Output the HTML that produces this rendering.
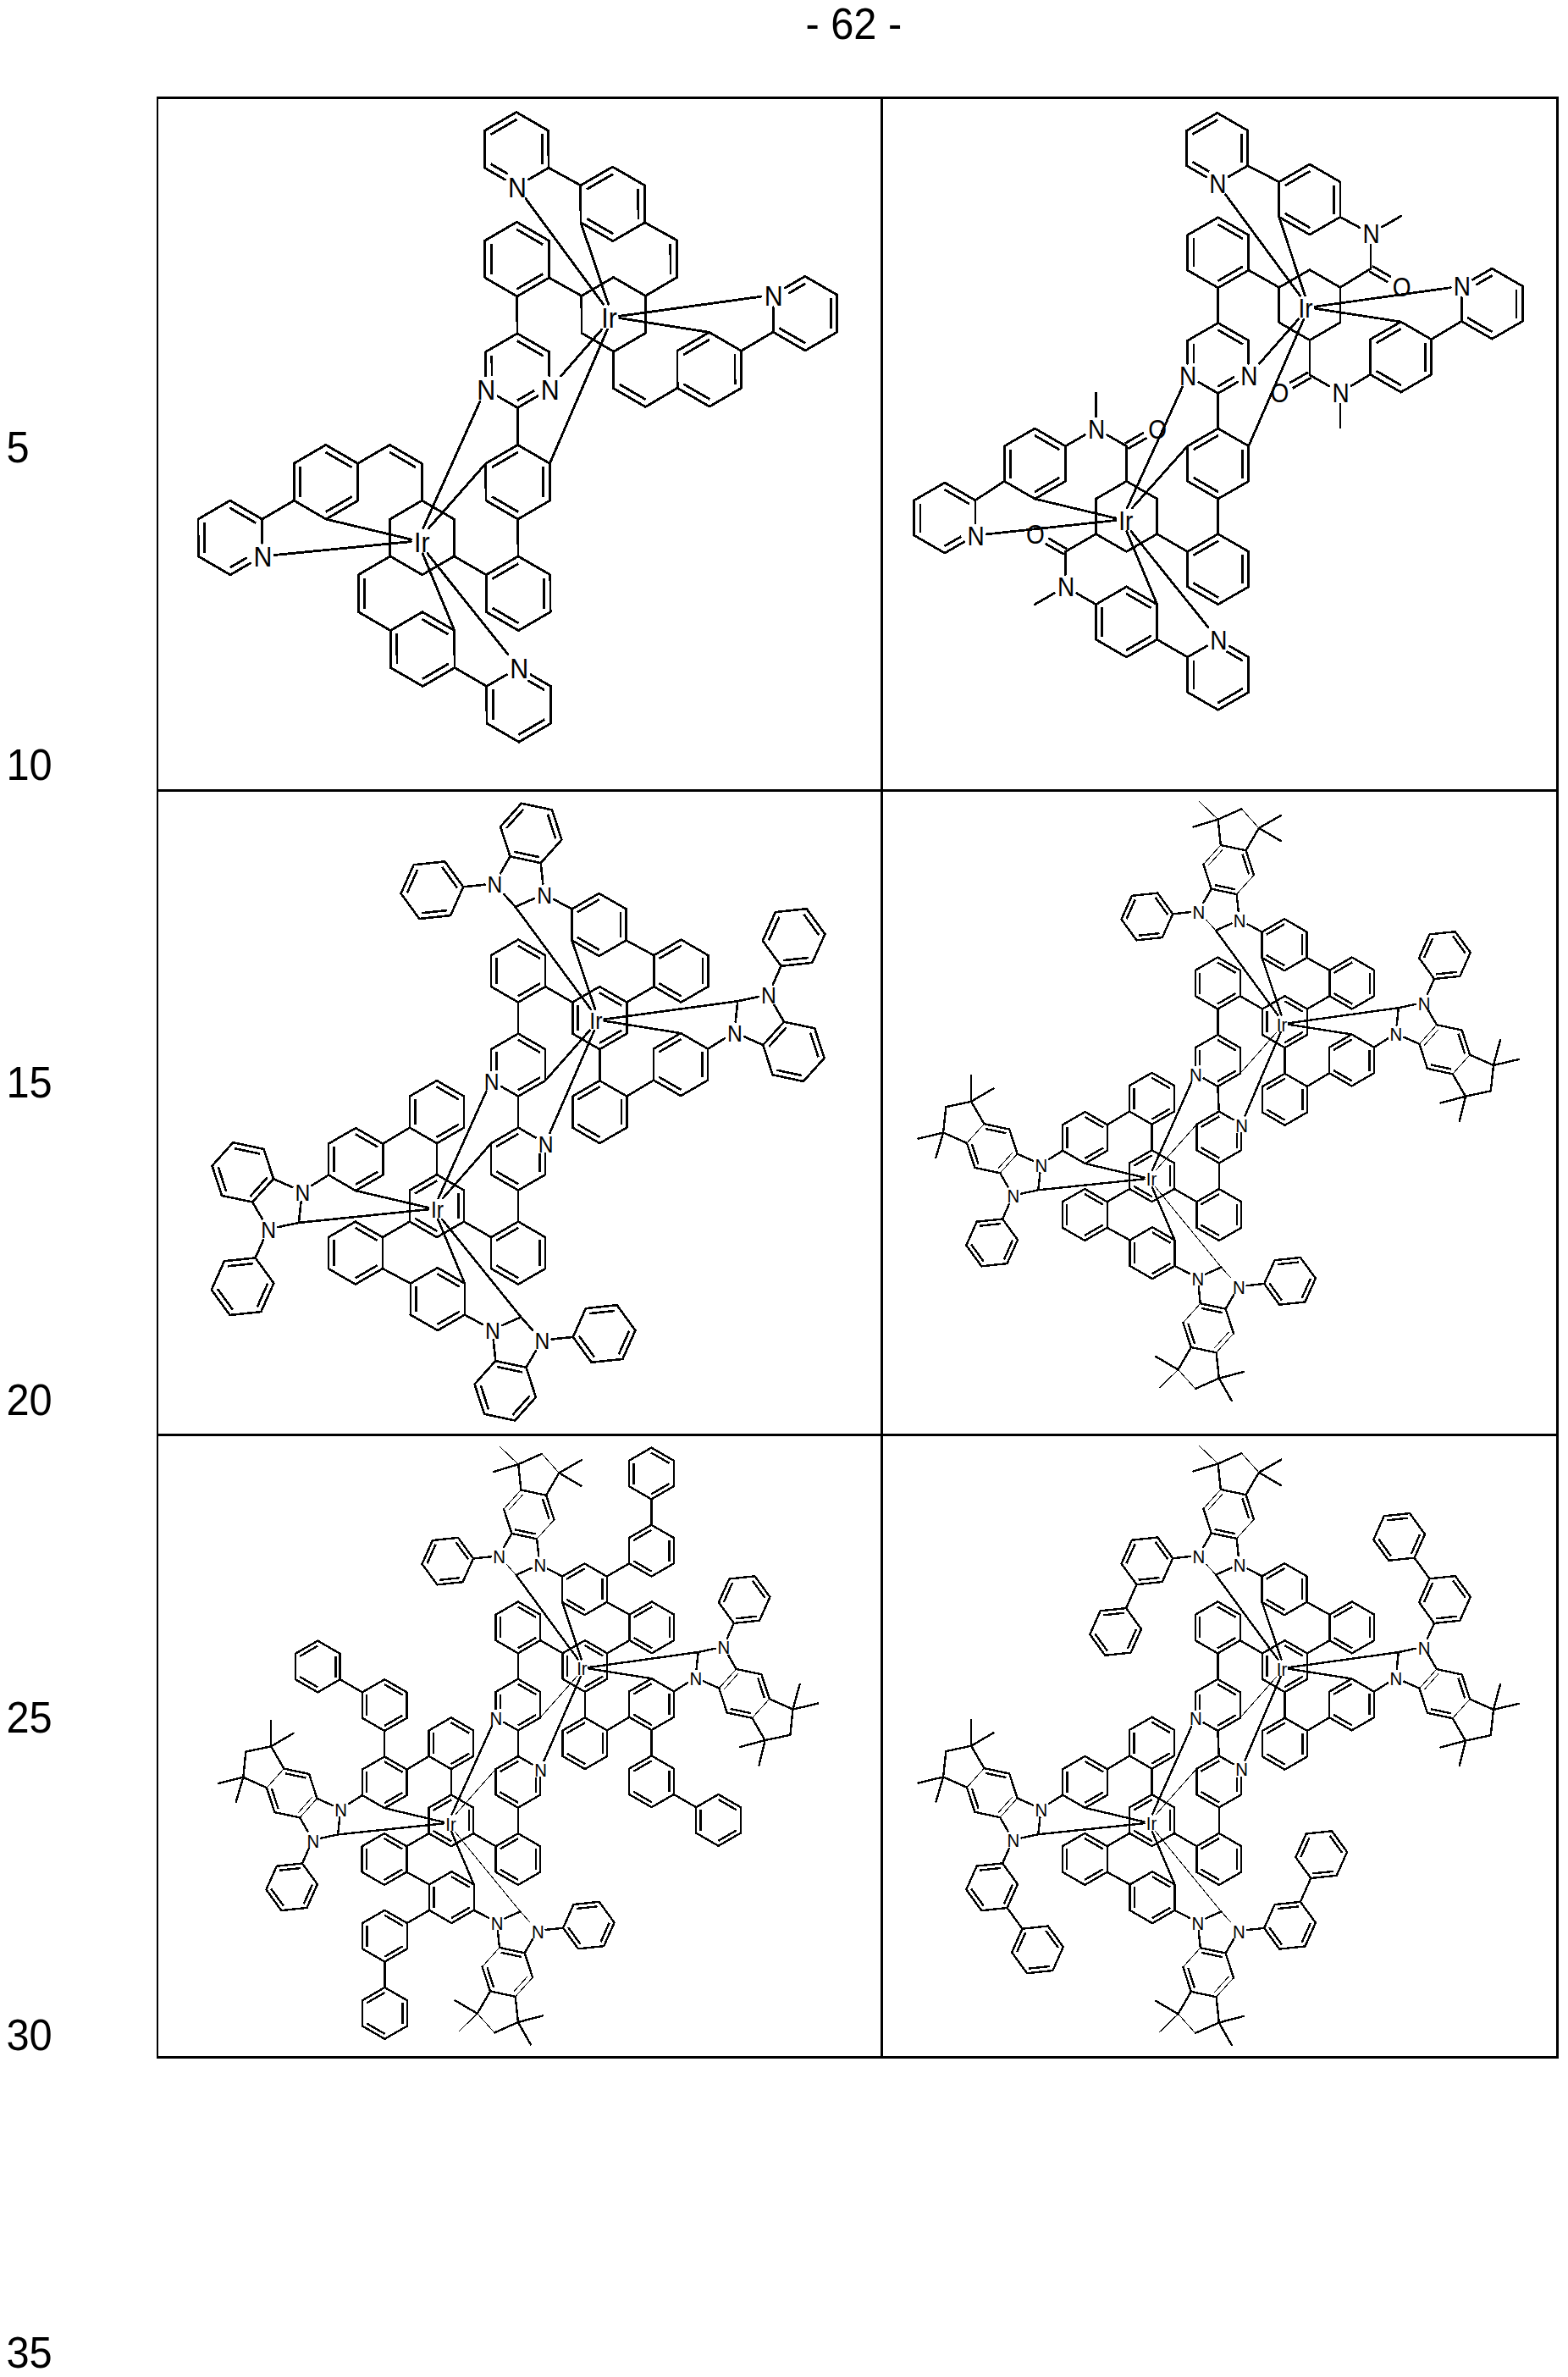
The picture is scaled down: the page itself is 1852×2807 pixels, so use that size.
<!DOCTYPE html>
<html><head><meta charset="utf-8"><title>62</title>
<style>
html,body{margin:0;padding:0;background:#fff}
body{width:1852px;height:2807px;overflow:hidden}
svg{display:block}
text{font-family:"Liberation Sans",sans-serif;fill:#000}
</style></head><body>
<svg width="1852" height="2807" viewBox="0 0 1852 2807" fill="none" stroke="#000" text-anchor="middle" shape-rendering="crispEdges">
<g font-size="50" text-anchor="start">
<text stroke="none" transform="translate(951.5 45.8) scale(0.975 1.03)">- 62 -</text>
<text stroke="none" transform="translate(7.5 545.8) scale(0.975 1.03)">5</text>
<text stroke="none" transform="translate(7.5 920.8) scale(0.975 1.03)">10</text>
<text stroke="none" transform="translate(7.5 1295.8) scale(0.975 1.03)">15</text>
<text stroke="none" transform="translate(7.5 1670.8) scale(0.975 1.03)">20</text>
<text stroke="none" transform="translate(7.5 2045.8) scale(0.975 1.03)">25</text>
<text stroke="none" transform="translate(7.5 2420.8) scale(0.975 1.03)">30</text>
<text stroke="none" transform="translate(7.5 2795.8) scale(0.975 1.03)">35</text>
</g>
<path d="M186.1 115.6H1839.5V2429.4H186.1ZM1041.4 115.6V2429.4M186.1 933.5H1839.5M186.1 1694.5H1839.5" stroke-width="2.7" stroke-linejoin="miter" stroke-linecap="butt"/>
<path d="M609.9 132.5L647.8 154.4M647.8 154.4L648.0 198.2M648.0 198.2L624.7 211.8M596.2 212.0L572.4 198.2M572.4 198.2L572.2 154.4M572.2 154.4L609.9 132.5M610.4 262.2L648.3 284.2M648.3 284.2L648.5 328.0M648.5 328.0L610.8 350.0M610.8 350.0L572.9 328.0M572.9 328.0L572.7 284.2M572.7 284.2L610.4 262.2M723.5 197.0L761.4 218.9M761.4 218.9L761.6 262.8M761.6 262.8L723.9 284.7M723.9 284.7L686.0 262.8M686.0 262.8L685.8 218.9M685.8 218.9L723.5 197.0M724.6 327.5L762.4 349.4M762.4 349.4L762.6 393.3M762.6 393.3L724.9 415.2M724.9 415.2L687.0 393.3M687.0 393.3L686.9 349.4M686.9 349.4L724.6 327.5M837.7 392.4L875.5 414.3M875.5 414.3L875.7 458.2M875.7 458.2L838.0 480.1M838.0 480.1L800.1 458.2M800.1 458.2L800.0 414.3M800.0 414.3L837.7 392.4M950.8 326.3L988.6 348.2M988.6 348.2L988.8 392.1M988.8 392.1L951.1 414.0M951.1 414.0L913.2 392.1M913.2 392.1L913.1 362.8M927.5 339.9L950.8 326.3M648.0 198.2L685.8 218.9M648.5 328.0L686.9 349.4M875.5 414.3L913.2 392.1M761.6 262.8L799.4 283.7M799.4 283.7L799.6 327.5M799.6 327.5L762.4 349.4M724.9 415.2L724.6 458.6M724.6 458.6L762.4 480.5M762.4 480.5L800.1 458.2M621.0 234.7L712.6 359.2M686.0 262.8L718.6 359.2M899.0 350.2L731.7 373.3M837.7 392.4L731.7 375.6M612.9 876.2L575.0 854.2M575.0 854.2L574.8 810.4M574.8 810.4L598.4 796.7M627.0 796.8L650.4 810.4M650.4 810.4L650.6 854.2M650.6 854.2L612.9 876.2M612.4 744.6L574.5 722.7M574.5 722.7L574.3 678.8M574.3 678.8L612.0 656.9M612.0 656.9L649.9 678.8M649.9 678.8L650.1 722.7M650.1 722.7L612.4 744.6M499.3 810.4L461.4 788.5M461.4 788.5L461.2 744.6M461.2 744.6L498.9 722.7M498.9 722.7L536.8 744.6M536.8 744.6L537.0 788.5M537.0 788.5L499.3 810.4M498.7 678.8L460.9 656.9M460.9 656.9L460.7 613.1M460.7 613.1L498.4 591.1M498.4 591.1L536.3 613.1M536.3 613.1L536.4 656.9M536.4 656.9L498.7 678.8M385.1 613.1L347.3 591.1M347.3 591.1L347.1 547.3M347.1 547.3L384.8 525.4M384.8 525.4L422.6 547.3M422.6 547.3L422.8 591.1M422.8 591.1L385.1 613.1M272.0 678.8L234.2 656.9M234.2 656.9L234.0 613.1M234.0 613.1L271.7 591.1M271.7 591.1L309.6 613.1M309.6 613.1L309.7 641.3M295.6 665.1L272.0 678.8M574.8 810.4L537.0 788.5M574.3 678.8L536.4 656.9M347.3 591.1L309.6 613.1M461.2 744.6L423.4 722.7M423.4 722.7L423.2 678.8M423.2 678.8L460.9 656.9M498.4 591.1L498.2 547.3M498.2 547.3L460.3 525.4M460.3 525.4L422.6 547.3M600.0 772.8L505.0 653.8M536.8 744.6L499.2 653.8M324.2 655.5L485.3 639.6M385.1 613.1L485.3 637.0M611.0 393.8L648.8 415.7M648.8 415.7L648.9 443.9M634.9 467.8L611.3 481.5M611.3 481.5L587.9 467.9M573.4 443.9L573.3 415.7M573.3 415.7L611.0 393.8M611.5 525.4L649.4 547.3M649.4 547.3L649.5 591.1M649.5 591.1L611.8 613.1M611.8 613.1L574.0 591.1M574.0 591.1L573.8 547.3M573.8 547.3L611.5 525.4M610.8 350.0L611.0 393.8M611.3 481.5L611.5 525.4M611.8 613.1L612.0 656.9M662.7 443.9L710.6 389.3M649.4 547.3L717.3 389.3M566.9 474.1L499.8 623.7M573.8 547.3L506.4 623.7" stroke-width="2.85" stroke-linecap="round"/>
<path d="M579.4 159.0L610.3 141.0M640.2 158.3L640.4 194.3M599.9 205.4L579.6 193.6M610.1 270.8L641.1 288.8M641.3 323.4L610.4 341.4M580.5 324.1L580.3 288.1M693.0 223.5L724.0 205.6M753.8 222.8L754.0 258.8M724.2 276.1L693.2 258.1M807.2 419.0L838.1 401.0M868.0 418.3L868.1 454.2M838.4 471.5L807.3 453.5M931.3 346.5L951.2 334.9M981.1 352.2L981.2 388.2M951.5 405.4L920.4 387.5M791.9 287.6L792.0 323.6M731.8 453.9L762.8 471.9M643.4 849.6L612.5 867.6M582.6 850.3L582.5 814.3M623.2 803.4L643.2 815.0M612.7 736.0L581.7 718.0M581.5 683.5L612.4 665.5M642.3 682.8L642.5 718.7M529.8 783.8L498.8 801.8M469.0 784.5L468.8 748.5M498.6 731.3L529.6 749.2M415.6 586.5L384.7 604.5M354.8 587.2L354.7 551.2M384.4 533.9L415.5 551.9M291.8 658.5L271.6 670.2M241.7 653.0L241.6 617.0M271.3 599.7L302.4 617.7M430.9 718.7L430.8 682.8M491.0 551.9L460.0 533.9M610.6 402.4L641.7 420.4M631.1 461.2L610.9 472.9M581.0 443.9L580.9 419.7M581.0 551.9L611.9 533.9M641.8 551.2L641.9 587.2M612.2 604.5L581.1 586.5" stroke-width="2.85" stroke-linecap="butt"/>
<text stroke="none" transform="translate(610.9 232.6) scale(0.95 1.04)" font-size="32.0">N</text>
<text stroke="none" transform="translate(913.7 360.7) scale(0.95 1.04)" font-size="32.0">N</text>
<text stroke="none" transform="translate(719.6 387.2) scale(0.95 1.04)" font-size="32.0">Ir</text>
<text stroke="none" transform="translate(613.2 800.9) scale(0.95 1.04)" font-size="32.0">N</text>
<text stroke="none" transform="translate(310.4 669.3) scale(0.95 1.04)" font-size="32.0">N</text>
<text stroke="none" transform="translate(498.3 651.7) scale(0.95 1.04)" font-size="32.0">Ir</text>
<text stroke="none" transform="translate(649.7 472.0) scale(0.95 1.04)" font-size="32.0">N</text>
<text stroke="none" transform="translate(574.1 472.0) scale(0.95 1.04)" font-size="32.0">N</text>
<path d="M1437.7 133.4L1473.8 154.2M1473.8 154.2L1473.8 195.7M1473.8 195.7L1451.0 208.8M1424.7 209.0L1401.6 195.7M1401.6 195.7L1401.6 154.2M1401.6 154.2L1437.7 133.4M1438.7 256.8L1474.8 277.6M1474.8 277.6L1474.8 319.1M1474.8 319.1L1438.7 339.9M1438.7 339.9L1402.6 319.1M1402.6 319.1L1402.6 277.6M1402.6 277.6L1438.7 256.8M1546.9 194.0L1582.9 214.8M1582.9 214.8L1582.9 256.3M1582.9 256.3L1546.9 277.1M1546.9 277.1L1510.8 256.3M1510.8 256.3L1510.8 214.8M1510.8 214.8L1546.9 194.0M1546.9 318.6L1582.9 339.4M1582.9 339.4L1582.9 380.9M1582.9 380.9L1546.9 401.7M1546.9 401.7L1510.8 380.9M1510.8 380.9L1510.8 339.4M1510.8 339.4L1546.9 318.6M1654.6 380.0L1690.6 400.8M1690.6 400.8L1690.6 442.3M1690.6 442.3L1654.6 463.1M1654.6 463.1L1618.5 442.3M1618.5 442.3L1618.5 400.8M1618.5 400.8L1654.6 380.0M1762.2 317.1L1798.3 337.9M1798.3 337.9L1798.3 379.4M1798.3 379.4L1762.2 400.2M1762.2 400.2L1726.2 379.4M1726.2 379.4L1726.2 351.3M1739.5 330.2L1762.2 317.1M1473.8 195.7L1510.8 214.8M1474.8 319.1L1510.8 339.4M1690.6 400.8L1726.2 379.4M1582.9 256.3L1606.0 268.8M1619.0 289.2L1619.0 317.3M1619.0 317.3L1582.9 339.4M1632.3 268.1L1655.1 255.0M1546.9 401.7L1546.9 442.7M1546.9 442.7L1569.9 456.0M1596.2 455.6L1618.5 442.3M1582.9 476.9L1582.9 505.0M1447.6 229.9L1535.5 349.1M1510.8 256.3L1541.3 349.1M1713.2 339.7L1553.2 362.1M1654.6 380.0L1553.2 364.3M1438.7 838.3L1402.6 817.5M1402.6 817.5L1402.6 776.0M1402.6 776.0L1425.7 762.7M1452.0 762.9L1474.8 776.0M1474.8 776.0L1474.8 817.5M1474.8 817.5L1438.7 838.3M1438.7 713.7L1402.6 692.9M1402.6 692.9L1402.6 651.4M1402.6 651.4L1438.7 630.6M1438.7 630.6L1474.8 651.4M1474.8 651.4L1474.8 692.9M1474.8 692.9L1438.7 713.7M1330.5 776.0L1294.5 755.2M1294.5 755.2L1294.5 713.7M1294.5 713.7L1330.5 692.9M1330.5 692.9L1366.6 713.7M1366.6 713.7L1366.6 755.2M1366.6 755.2L1330.5 776.0M1330.5 651.4L1294.5 630.6M1294.5 630.6L1294.5 589.1M1294.5 589.1L1330.5 568.3M1330.5 568.3L1366.6 589.1M1366.6 589.1L1366.6 630.6M1366.6 630.6L1330.5 651.4M1222.3 589.1L1186.3 568.3M1186.3 568.3L1186.3 526.8M1186.3 526.8L1222.3 506.0M1222.3 506.0L1258.4 526.8M1258.4 526.8L1258.4 568.3M1258.4 568.3L1222.3 589.1M1115.9 653.1L1079.8 632.3M1079.8 632.3L1079.8 590.8M1079.8 590.8L1115.9 570.0M1115.9 570.0L1151.9 590.8M1151.9 590.8L1151.9 617.9M1138.9 639.8L1115.9 653.1M1402.6 776.0L1366.6 755.2M1402.6 651.4L1366.6 630.6M1186.3 568.3L1151.9 590.8M1294.5 713.7L1271.7 700.6M1258.4 678.5L1258.4 651.4M1258.4 651.4L1294.5 630.6M1245.4 700.4L1222.3 713.7M1330.5 568.3L1330.5 526.8M1330.5 526.8L1307.8 513.7M1281.5 513.5L1258.4 526.8M1294.5 491.6L1294.5 464.5M1427.1 740.8L1336.0 627.5M1366.6 713.7L1330.7 627.5M1165.2 630.9L1317.9 614.5M1222.3 589.1L1317.9 612.0M1438.7 381.4L1474.8 402.2M1474.8 402.2L1474.8 429.3M1461.7 451.2L1438.7 464.5M1438.7 464.5L1415.9 451.4M1402.6 429.3L1402.6 402.2M1402.6 402.2L1438.7 381.4M1438.7 506.0L1474.8 526.8M1474.8 526.8L1474.8 568.3M1474.8 568.3L1438.7 589.1M1438.7 589.1L1402.6 568.3M1402.6 568.3L1402.6 526.8M1402.6 526.8L1438.7 506.0M1438.7 339.9L1438.7 381.4M1438.7 464.5L1438.7 506.0M1438.7 589.1L1438.7 630.6M1487.5 429.3L1533.7 376.9M1474.8 526.8L1539.9 376.9M1396.5 457.1L1331.3 599.7M1402.6 526.8L1337.5 599.7" stroke-width="2.75" stroke-linecap="round"/>
<path d="M1408.5 158.6L1438.1 141.5M1466.5 157.9L1466.5 192.0M1428.3 202.7L1408.5 191.3M1438.3 264.9L1467.9 282.0M1467.9 314.7L1438.3 331.8M1409.9 315.4L1409.9 281.3M1517.7 219.2L1547.3 202.1M1575.7 218.5L1575.7 252.6M1547.3 269.0L1517.7 251.9M1625.4 405.2L1654.9 388.2M1683.4 404.5L1683.4 438.6M1654.9 455.0L1625.4 437.9M1743.1 336.5L1762.6 325.3M1791.0 341.6L1791.0 375.7M1762.6 392.1L1733.0 375.0M1617.2 320.5L1639.4 333.3M1620.8 314.2L1643.0 327.0M1545.1 439.6L1523.1 452.2M1548.7 445.9L1526.8 458.5M1467.9 813.1L1438.3 830.2M1409.9 813.8L1409.9 779.7M1448.4 769.1L1467.9 780.4M1439.1 705.6L1409.5 688.5M1409.5 655.8L1439.1 638.7M1467.5 655.1L1467.5 689.2M1359.7 750.8L1330.1 767.9M1301.7 751.5L1301.7 717.4M1330.1 701.0L1359.7 718.1M1251.5 563.9L1222.0 581.0M1193.5 564.6L1193.5 530.5M1222.0 514.1L1251.5 531.2M1135.3 633.5L1115.5 644.9M1087.1 628.6L1087.1 594.5M1115.5 578.1L1145.1 595.2M1260.2 648.3L1238.3 635.6M1256.6 654.5L1234.7 641.9M1332.3 529.9L1354.6 517.1M1328.7 523.7L1350.9 510.9M1438.3 389.5L1467.9 406.6M1458.1 444.9L1438.3 456.4M1409.9 429.3L1409.9 405.9M1409.5 531.2L1439.1 514.1M1467.5 530.5L1467.5 564.6M1439.1 581.0L1409.5 563.9" stroke-width="2.75" stroke-linecap="butt"/>
<text stroke="none" transform="translate(1438.3 227.9) scale(0.95 1.04)" font-size="29.5">N</text>
<text stroke="none" transform="translate(1726.8 349.3) scale(0.95 1.04)" font-size="29.5">N</text>
<text stroke="none" transform="translate(1619.6 287.2) scale(0.95 1.04)" font-size="29.5">N</text>
<text stroke="none" transform="translate(1655.6 349.5) scale(0.95 1.04)" font-size="29.5">O</text>
<text stroke="none" transform="translate(1583.5 474.9) scale(0.95 1.04)" font-size="29.5">N</text>
<text stroke="none" transform="translate(1511.4 474.9) scale(0.95 1.04)" font-size="29.5">O</text>
<text stroke="none" transform="translate(1542.1 375.0) scale(0.95 1.04)" font-size="29.5">Ir</text>
<text stroke="none" transform="translate(1439.3 766.7) scale(0.95 1.04)" font-size="29.5">N</text>
<text stroke="none" transform="translate(1152.5 643.8) scale(0.95 1.04)" font-size="29.5">N</text>
<text stroke="none" transform="translate(1259.0 704.4) scale(0.95 1.04)" font-size="29.5">N</text>
<text stroke="none" transform="translate(1222.9 642.1) scale(0.95 1.04)" font-size="29.5">O</text>
<text stroke="none" transform="translate(1295.1 517.5) scale(0.95 1.04)" font-size="29.5">N</text>
<text stroke="none" transform="translate(1367.2 517.5) scale(0.95 1.04)" font-size="29.5">O</text>
<text stroke="none" transform="translate(1329.8 625.6) scale(0.95 1.04)" font-size="29.5">Ir</text>
<text stroke="none" transform="translate(1475.3 455.2) scale(0.95 1.04)" font-size="29.5">N</text>
<text stroke="none" transform="translate(1403.2 455.2) scale(0.95 1.04)" font-size="29.5">N</text>
<path d="M707.5 1055.0L739.6 1073.5M739.6 1073.5L739.6 1110.5M739.6 1110.5L707.5 1129.0M707.5 1129.0L675.5 1110.5M675.5 1110.5L675.5 1073.5M675.5 1073.5L707.5 1055.0M631.1 1061.0L608.7 1070.9M608.7 1070.9L595.1 1055.8M591.0 1031.3L602.5 1011.4M602.5 1011.4L638.7 1019.1M638.7 1019.1L641.3 1043.7M638.7 1019.1L663.4 991.6M663.4 991.6L652.0 956.4M652.0 956.4L615.8 948.7M615.8 948.7L591.1 976.2M591.1 976.2L602.5 1011.4M572.5 1044.7L547.2 1047.3M547.2 1047.3L532.1 1081.1M532.1 1081.1L495.3 1085.0M495.3 1085.0L473.6 1055.1M473.6 1055.1L488.6 1021.3M488.6 1021.3L525.4 1017.4M525.4 1017.4L547.2 1047.3M675.5 1073.5L654.3 1062.2M836.1 1275.6L804.1 1294.1M804.1 1294.1L772.0 1275.6M772.0 1275.6L772.0 1238.6M772.0 1238.6L804.1 1220.1M804.1 1220.1L836.1 1238.6M836.1 1238.6L836.1 1275.6M868.7 1206.9L871.3 1182.3M871.3 1182.3L896.0 1177.0M914.6 1186.9L926.0 1206.7M926.0 1206.7L901.2 1234.1M901.2 1234.1L879.2 1224.3M901.2 1234.1L912.7 1269.3M912.7 1269.3L948.9 1277.0M948.9 1277.0L973.6 1249.5M973.6 1249.5L962.2 1214.3M962.2 1214.3L926.0 1206.7M912.9 1162.4L922.6 1140.8M922.6 1140.8L900.8 1110.9M900.8 1110.9L915.9 1077.1M915.9 1077.1L952.7 1073.2M952.7 1073.2L974.4 1103.1M974.4 1103.1L959.3 1136.9M959.3 1136.9L922.6 1140.8M836.1 1238.6L856.0 1226.2M516.9 1571.1L484.8 1552.6M484.8 1552.6L484.8 1515.6M484.8 1515.6L516.9 1497.1M516.9 1497.1L548.9 1515.6M548.9 1515.6L548.9 1552.6M548.9 1552.6L516.9 1571.1M593.2 1565.1L615.3 1555.3M615.3 1555.3L629.0 1570.6M632.9 1595.1L621.5 1614.8M621.5 1614.8L585.3 1607.1M585.3 1607.1L582.8 1582.6M585.3 1607.1L560.6 1634.6M560.6 1634.6L572.0 1669.8M572.0 1669.8L608.2 1677.5M608.2 1677.5L632.9 1650.0M632.9 1650.0L621.5 1614.8M651.7 1581.5L676.8 1578.9M676.8 1578.9L691.9 1545.1M691.9 1545.1L728.7 1541.2M728.7 1541.2L750.4 1571.1M750.4 1571.1L735.4 1604.9M735.4 1604.9L698.6 1608.8M698.6 1608.8L676.8 1578.9M548.9 1552.6L570.0 1564.1M388.1 1350.6L420.1 1332.1M420.1 1332.1L452.2 1350.6M452.2 1350.6L452.2 1387.6M452.2 1387.6L420.1 1406.1M420.1 1406.1L388.1 1387.6M388.1 1387.6L388.1 1350.6M355.5 1419.4L352.9 1443.9M352.9 1443.9L328.4 1449.1M309.7 1439.4L298.2 1419.5M298.2 1419.5L323.0 1392.1M323.0 1392.1L345.3 1402.0M323.0 1392.1L311.5 1356.9M311.5 1356.9L275.3 1349.2M275.3 1349.2L250.6 1376.7M250.6 1376.7L262.0 1411.9M262.0 1411.9L298.2 1419.5M311.2 1463.9L301.6 1485.4M301.6 1485.4L323.4 1515.3M323.4 1515.3L308.3 1549.1M308.3 1549.1L271.5 1553.0M271.5 1553.0L249.8 1523.1M249.8 1523.1L264.9 1489.3M264.9 1489.3L301.6 1485.4M388.1 1387.6L368.5 1399.8M612.1 1109.6L644.1 1128.1M644.1 1128.1L644.1 1165.1M644.1 1165.1L612.1 1183.6M612.1 1183.6L580.1 1165.1M580.1 1165.1L580.1 1128.1M580.1 1128.1L612.1 1109.6M708.2 1165.1L740.3 1183.6M740.3 1183.6L740.3 1220.6M740.3 1220.6L708.2 1239.1M708.2 1239.1L676.2 1220.6M676.2 1220.6L676.2 1183.6M676.2 1183.6L708.2 1165.1M804.4 1109.6L836.4 1128.1M836.4 1128.1L836.4 1165.1M836.4 1165.1L804.4 1183.6M804.4 1183.6L772.3 1165.1M772.3 1165.1L772.3 1128.1M772.3 1128.1L804.4 1109.6M708.2 1276.1L740.3 1294.6M740.3 1294.6L740.3 1331.6M740.3 1331.6L708.2 1350.1M708.2 1350.1L676.2 1331.6M676.2 1331.6L676.2 1294.6M676.2 1294.6L708.2 1276.1M612.1 1220.6L644.1 1239.1M644.1 1239.1L644.1 1276.1M644.1 1276.1L612.1 1294.6M612.1 1294.6L591.8 1282.9M580.1 1263.9L580.1 1239.1M580.1 1239.1L612.1 1220.6M644.1 1165.1L676.2 1183.6M740.3 1183.6L772.3 1165.1M708.2 1239.1L708.2 1276.1M612.1 1183.6L612.1 1220.6M612.1 1516.6L580.1 1498.1M580.1 1498.1L580.1 1461.1M580.1 1461.1L612.1 1442.6M612.1 1442.6L644.1 1461.1M644.1 1461.1L644.1 1498.1M644.1 1498.1L612.1 1516.6M516.0 1461.1L483.9 1442.6M483.9 1442.6L483.9 1405.6M483.9 1405.6L516.0 1387.1M516.0 1387.1L548.0 1405.6M548.0 1405.6L548.0 1442.6M548.0 1442.6L516.0 1461.1M419.8 1516.6L387.8 1498.1M387.8 1498.1L387.8 1461.1M387.8 1461.1L419.8 1442.6M419.8 1442.6L451.9 1461.1M451.9 1461.1L451.9 1498.1M451.9 1498.1L419.8 1516.6M516.0 1350.1L483.9 1331.6M483.9 1331.6L483.9 1294.6M483.9 1294.6L516.0 1276.1M516.0 1276.1L548.0 1294.6M548.0 1294.6L548.0 1331.6M548.0 1331.6L516.0 1350.1M612.1 1405.6L580.1 1387.1M580.1 1387.1L580.1 1350.1M580.1 1350.1L612.1 1331.6M612.1 1331.6L632.7 1343.5M644.1 1362.4L644.1 1387.1M644.1 1387.1L612.1 1405.6M580.1 1461.1L548.0 1442.6M483.9 1442.6L451.9 1461.1M516.0 1387.1L516.0 1350.1M612.1 1442.6L612.1 1405.6M772.3 1128.1L739.6 1110.5M740.3 1294.6L772.0 1275.6M451.9 1498.1L484.8 1515.6M483.9 1331.6L452.2 1350.6M608.7 1070.9L698.1 1192.2M675.5 1110.5L703.1 1192.2M871.3 1182.3L713.7 1203.7M804.1 1220.1L713.7 1205.6M615.3 1555.3L522.0 1439.8M548.9 1515.6L517.2 1439.8M352.9 1443.9L505.9 1428.2M420.1 1406.1L505.9 1426.1M644.1 1276.1L696.5 1216.8M649.4 1337.9L702.0 1216.8M580.1 1350.1L523.0 1415.2M574.5 1288.4L517.7 1415.2M612.1 1294.6L612.1 1331.6" stroke-width="2.60" stroke-linecap="round"/>
<path d="M681.6 1077.4L707.9 1062.2M733.1 1076.8L733.1 1107.2M707.9 1121.8L681.6 1106.6M607.1 1005.8L636.8 1012.1M656.3 990.4L646.9 961.6M618.4 955.5L598.1 978.1M528.2 1075.1L498.0 1078.2M480.8 1054.6L493.2 1026.9M522.2 1023.9L540.0 1048.4M829.7 1241.9L829.7 1272.3M804.4 1286.9L778.1 1271.7M778.1 1242.5L804.4 1227.3M928.6 1213.4L908.3 1236.0M917.3 1263.7L947.0 1270.0M966.5 1248.4L957.1 1219.5M908.0 1110.5L920.4 1082.7M949.4 1079.7L967.2 1104.2M955.4 1130.9L925.2 1134.1M542.8 1548.7L516.5 1563.9M491.3 1549.3L491.3 1518.9M516.5 1504.3L542.8 1519.5M616.9 1620.4L587.2 1614.1M567.7 1635.8L577.1 1664.6M605.6 1670.7L625.9 1648.1M695.8 1551.1L726.0 1548.0M743.2 1571.6L730.8 1599.3M701.8 1602.3L684.0 1577.8M394.5 1384.3L394.5 1353.9M419.8 1339.3L446.1 1354.5M446.1 1383.7L419.8 1398.9M295.6 1412.8L315.9 1390.2M306.9 1362.5L277.2 1356.2M257.7 1377.8L267.1 1406.7M316.2 1515.7L303.8 1543.5M274.8 1546.5L257.0 1522.0M268.8 1495.3L299.0 1492.1M611.8 1116.8L638.0 1132.0M638.0 1161.2L611.8 1176.4M586.5 1161.8L586.5 1131.4M707.9 1172.3L734.2 1187.5M734.2 1216.7L707.9 1231.9M682.6 1217.3L682.6 1186.9M778.4 1132.0L804.7 1116.8M830.0 1131.4L830.0 1161.8M804.7 1176.4L778.4 1161.2M682.3 1298.5L708.6 1283.3M733.8 1297.9L733.8 1328.3M708.6 1342.9L682.3 1327.7M611.8 1227.8L638.0 1243.0M638.0 1272.2L611.8 1287.4M586.5 1263.9L586.5 1242.4M612.4 1509.4L586.2 1494.2M586.2 1465.0L612.4 1449.8M637.7 1464.4L637.7 1494.8M516.3 1453.9L490.0 1438.7M490.0 1409.5L516.3 1394.3M541.6 1408.9L541.6 1439.3M445.8 1494.2L419.5 1509.4M394.2 1494.8L394.2 1464.4M419.5 1449.8L445.8 1465.0M541.9 1327.7L515.6 1342.9M490.4 1328.3L490.4 1297.9M515.6 1283.3L541.9 1298.5M612.4 1398.4L586.2 1383.2M586.2 1354.0L612.4 1338.8M637.7 1362.4L637.7 1383.8" stroke-width="2.60" stroke-linecap="butt"/>
<text stroke="none" transform="translate(643.1 1066.5) scale(0.95 1.04)" font-size="26.0">N</text>
<text stroke="none" transform="translate(584.5 1054.1) scale(0.95 1.04)" font-size="26.0">N</text>
<text stroke="none" transform="translate(868.0 1229.7) scale(0.95 1.04)" font-size="26.0">N</text>
<text stroke="none" transform="translate(908.0 1185.2) scale(0.95 1.04)" font-size="26.0">N</text>
<text stroke="none" transform="translate(582.0 1580.9) scale(0.95 1.04)" font-size="26.0">N</text>
<text stroke="none" transform="translate(640.5 1593.4) scale(0.95 1.04)" font-size="26.0">N</text>
<text stroke="none" transform="translate(357.3 1417.7) scale(0.95 1.04)" font-size="26.0">N</text>
<text stroke="none" transform="translate(317.2 1462.2) scale(0.95 1.04)" font-size="26.0">N</text>
<text stroke="none" transform="translate(580.6 1286.7) scale(0.95 1.04)" font-size="26.0">N</text>
<text stroke="none" transform="translate(644.7 1360.7) scale(0.95 1.04)" font-size="26.0">N</text>
<text stroke="none" transform="translate(703.9 1215.0) scale(0.95 1.04)" font-size="26.0">Ir</text>
<text stroke="none" transform="translate(516.5 1438.0) scale(0.95 1.04)" font-size="26.0">Ir</text>
<path d="M1517.0 1085.2L1543.5 1100.5M1543.5 1100.5L1543.5 1131.0M1543.5 1131.0L1517.0 1146.2M1517.0 1146.2L1490.6 1131.0M1490.6 1131.0L1490.6 1100.5M1490.6 1100.5L1517.0 1085.2M1454.3 1090.6L1436.0 1098.8M1421.4 1066.0L1430.8 1049.7M1430.8 1049.7L1460.6 1056.0M1460.6 1056.0L1462.8 1076.3M1481.0 1033.4L1471.6 1004.3M1471.6 1004.3L1441.8 998.0M1421.4 1020.7L1430.8 1049.7M1471.6 1004.3L1486.9 977.9M1466.5 955.3L1438.6 967.7M1438.6 967.7L1441.8 998.0M1486.9 977.9L1513.3 962.8M1486.9 977.9L1513.2 993.3M1438.6 967.7L1409.4 976.5M1406.1 1077.1L1385.2 1079.3M1385.2 1079.3L1372.8 1107.1M1372.8 1107.1L1342.5 1110.3M1342.5 1110.3L1324.5 1085.7M1324.5 1085.7L1336.9 1057.8M1336.9 1057.8L1367.3 1054.6M1367.3 1054.6L1385.2 1079.3M1490.6 1100.5L1473.5 1091.5M1622.9 1267.2L1596.5 1282.5M1596.5 1282.5L1570.1 1267.2M1570.1 1267.2L1570.1 1236.8M1570.1 1236.8L1596.5 1221.5M1596.5 1221.5L1622.9 1236.8M1622.9 1236.8L1622.9 1267.2M1649.7 1210.4L1651.8 1190.2M1651.8 1190.2L1672.2 1185.8M1687.5 1194.0L1696.9 1210.2M1676.5 1232.9L1658.3 1224.8M1676.5 1232.9L1685.9 1261.9M1685.9 1261.9L1715.7 1268.3M1736.1 1245.6L1726.7 1216.6M1726.7 1216.6L1696.9 1210.2M1715.7 1268.3L1731.0 1294.7M1731.0 1294.7L1760.8 1288.3M1760.8 1288.3L1764.0 1258.0M1764.0 1258.0L1736.1 1245.6M1731.0 1294.7L1723.8 1324.3M1731.0 1294.7L1701.5 1302.5M1764.0 1258.0L1793.7 1251.0M1764.0 1258.0L1771.9 1228.5M1686.1 1173.7L1694.0 1156.0M1694.0 1156.0L1676.1 1131.3M1676.1 1131.3L1688.5 1103.4M1688.5 1103.4L1718.8 1100.2M1718.8 1100.2L1736.8 1124.9M1736.8 1124.9L1724.4 1152.8M1724.4 1152.8L1694.0 1156.0M1622.9 1236.8L1639.1 1226.5M1361.1 1510.2L1334.6 1495.0M1334.6 1495.0L1334.6 1464.5M1334.6 1464.5L1361.1 1449.2M1361.1 1449.2L1387.5 1464.5M1387.5 1464.5L1387.5 1495.0M1387.5 1495.0L1361.1 1510.2M1424.3 1504.6L1442.4 1496.5M1457.0 1529.4L1447.6 1545.6M1447.6 1545.6L1417.8 1539.3M1417.8 1539.3L1415.7 1519.1M1397.4 1561.9L1406.8 1591.0M1406.8 1591.0L1436.6 1597.3M1457.0 1574.6L1447.6 1545.6M1406.8 1591.0L1391.5 1617.4M1411.9 1640.0L1439.8 1627.6M1439.8 1627.6L1436.6 1597.3M1391.5 1617.4L1365.2 1602.0M1439.8 1627.6L1454.8 1654.2M1439.8 1627.6L1469.3 1619.9M1472.6 1518.2L1493.2 1516.0M1493.2 1516.0L1505.6 1488.2M1505.6 1488.2L1535.9 1485.0M1535.9 1485.0L1553.9 1509.6M1553.9 1509.6L1541.5 1537.5M1541.5 1537.5L1511.1 1540.7M1511.1 1540.7L1493.2 1516.0M1387.5 1495.0L1405.1 1504.1M1255.2 1328.2L1281.6 1313.0M1281.6 1313.0L1308.0 1328.2M1308.0 1328.2L1308.0 1358.8M1308.0 1358.8L1281.6 1374.0M1281.6 1374.0L1255.2 1358.8M1255.2 1358.8L1255.2 1328.2M1228.4 1385.2L1226.3 1405.3M1226.3 1405.3L1206.2 1409.6M1190.6 1401.6L1181.2 1385.3M1201.6 1362.6L1220.0 1370.8M1201.6 1362.6L1192.2 1333.6M1192.2 1333.6L1162.4 1327.2M1142.0 1349.9L1151.4 1378.9M1151.4 1378.9L1181.2 1385.3M1162.4 1327.2L1147.1 1300.8M1147.1 1300.8L1117.3 1307.2M1117.3 1307.2L1114.1 1337.5M1114.1 1337.5L1142.0 1349.9M1147.1 1300.8L1146.7 1270.3M1147.1 1300.8L1173.4 1285.4M1114.1 1337.5L1084.5 1344.7M1114.1 1337.5L1105.5 1366.8M1191.9 1421.9L1184.1 1439.5M1184.1 1439.5L1202.0 1464.2M1202.0 1464.2L1189.6 1492.1M1189.6 1492.1L1159.3 1495.3M1159.3 1495.3L1141.3 1470.6M1141.3 1470.6L1153.7 1442.7M1153.7 1442.7L1184.1 1439.5M1255.2 1358.8L1239.2 1368.9M1438.3 1130.5L1464.7 1145.8M1464.7 1145.8L1464.7 1176.2M1464.7 1176.2L1438.3 1191.5M1438.3 1191.5L1411.9 1176.2M1411.9 1176.2L1411.9 1145.8M1411.9 1145.8L1438.3 1130.5M1517.5 1176.2L1544.0 1191.5M1544.0 1191.5L1544.0 1222.0M1544.0 1222.0L1517.5 1237.2M1517.5 1237.2L1491.1 1222.0M1491.1 1222.0L1491.1 1191.5M1491.1 1191.5L1517.5 1176.2M1596.8 1130.5L1623.2 1145.8M1623.2 1145.8L1623.2 1176.2M1623.2 1176.2L1596.8 1191.5M1596.8 1191.5L1570.4 1176.2M1570.4 1176.2L1570.4 1145.8M1570.4 1145.8L1596.8 1130.5M1517.5 1267.8L1544.0 1283.0M1544.0 1283.0L1544.0 1313.5M1544.0 1313.5L1517.5 1328.8M1517.5 1328.8L1491.1 1313.5M1491.1 1313.5L1491.1 1283.0M1491.1 1283.0L1517.5 1267.8M1438.3 1222.0L1464.7 1237.2M1464.7 1237.2L1464.7 1267.8M1464.7 1267.8L1438.3 1283.0M1438.3 1283.0L1421.6 1273.3M1411.9 1257.7L1411.9 1237.2M1411.9 1237.2L1438.3 1222.0M1464.7 1176.2L1491.1 1191.5M1544.0 1191.5L1570.4 1176.2M1517.5 1237.2L1517.5 1267.8M1438.3 1191.5L1438.3 1222.0M1439.8 1465.0L1413.4 1449.8M1413.4 1449.8L1413.4 1419.2M1413.4 1419.2L1439.8 1404.0M1439.8 1404.0L1466.2 1419.2M1466.2 1419.2L1466.2 1449.8M1466.2 1449.8L1439.8 1465.0M1360.6 1419.2L1334.1 1404.0M1334.1 1404.0L1334.1 1373.5M1334.1 1373.5L1360.6 1358.2M1360.6 1358.2L1387.0 1373.5M1387.0 1373.5L1387.0 1404.0M1387.0 1404.0L1360.6 1419.2M1281.3 1465.0L1254.9 1449.8M1254.9 1449.8L1254.9 1419.2M1254.9 1419.2L1281.3 1404.0M1281.3 1404.0L1307.7 1419.2M1307.7 1419.2L1307.7 1449.8M1307.7 1449.8L1281.3 1465.0M1360.6 1327.8L1334.1 1312.5M1334.1 1312.5L1334.1 1282.0M1334.1 1282.0L1360.6 1266.8M1360.6 1266.8L1387.0 1282.0M1387.0 1282.0L1387.0 1312.5M1387.0 1312.5L1360.6 1327.8M1439.8 1373.5L1413.4 1358.2M1413.4 1358.2L1413.4 1327.8M1413.4 1327.8L1439.8 1312.5M1439.8 1312.5L1456.7 1322.3M1466.2 1337.9L1466.2 1358.2M1466.2 1358.2L1439.8 1373.5M1413.4 1419.2L1387.0 1404.0M1334.1 1404.0L1307.7 1419.2M1360.6 1358.2L1360.6 1327.8M1439.8 1404.0L1439.8 1373.5M1570.4 1145.8L1543.5 1131.0M1544.0 1283.0L1570.1 1267.2M1307.7 1449.8L1334.6 1464.5M1334.1 1312.5L1308.0 1328.2M1436.0 1098.8L1509.3 1198.7M1490.6 1131.0L1513.4 1198.7M1651.8 1190.2L1522.2 1208.2M1596.5 1221.5L1522.2 1209.8M1387.5 1464.5L1360.8 1401.8M1226.3 1405.3L1351.4 1392.3M1281.6 1374.0L1351.4 1390.5M1470.5 1317.7L1512.6 1219.0M1407.3 1277.9L1361.1 1381.5M1438.3 1283.0L1439.8 1312.5" stroke-width="2.40" stroke-linecap="round"/>
<path d="M1495.7 1103.7L1517.3 1091.2M1538.1 1103.2L1538.1 1128.3M1517.3 1140.3L1495.7 1127.8M1434.6 1045.1L1459.0 1050.3M1475.1 1032.4L1467.4 1008.6M1369.5 1102.1L1344.6 1104.8M1330.5 1085.3L1340.7 1062.5M1364.6 1059.9L1379.3 1080.2M1617.6 1239.5L1617.6 1264.5M1596.8 1276.5L1575.1 1264.0M1575.1 1240.0L1596.8 1227.5M1689.7 1257.3L1714.2 1262.5M1730.2 1244.6L1722.5 1220.8M1682.1 1130.9L1692.2 1108.1M1716.2 1105.6L1730.9 1125.8M1721.1 1147.8L1696.2 1150.4M1382.4 1491.8L1360.8 1504.3M1340.0 1492.3L1340.0 1467.2M1360.8 1455.2L1382.4 1467.7M1443.8 1550.2L1419.4 1545.0M1403.3 1562.9L1411.0 1586.7M1508.9 1493.2L1533.8 1490.5M1547.9 1510.0L1537.7 1532.8M1513.8 1535.4L1499.1 1515.1M1260.5 1356.0L1260.5 1331.0M1281.3 1319.0L1303.0 1331.5M1303.0 1355.5L1281.3 1368.0M1188.4 1338.2L1163.9 1333.0M1147.9 1350.9L1155.6 1374.7M1196.0 1464.6L1185.9 1487.4M1161.9 1489.9L1147.2 1469.7M1157.0 1447.7L1181.9 1445.1M1438.0 1136.5L1459.7 1149.0M1459.7 1173.0L1438.0 1185.5M1417.2 1173.5L1417.2 1148.5M1517.3 1182.2L1538.9 1194.7M1538.9 1218.8L1517.3 1231.3M1496.4 1219.3L1496.4 1194.2M1575.4 1149.0L1597.1 1136.5M1617.9 1148.5L1617.9 1173.5M1597.1 1185.5L1575.4 1173.0M1496.2 1286.2L1517.8 1273.7M1538.6 1285.7L1538.6 1310.8M1517.8 1322.8L1496.2 1310.3M1438.0 1228.0L1459.7 1240.5M1459.7 1264.5L1438.0 1277.0M1417.2 1257.7L1417.2 1240.0M1440.1 1459.0L1418.4 1446.5M1418.4 1422.5L1440.1 1410.0M1460.9 1422.0L1460.9 1447.0M1360.8 1413.3L1339.2 1400.8M1339.2 1376.7L1360.8 1364.2M1381.7 1376.2L1381.7 1401.3M1302.7 1446.5L1281.0 1459.0M1260.2 1447.0L1260.2 1422.0M1281.0 1410.0L1302.7 1422.5M1381.9 1309.3L1360.3 1321.8M1339.5 1309.8L1339.5 1284.7M1360.3 1272.7L1381.9 1285.2M1440.1 1367.5L1418.4 1355.0M1418.4 1331.0L1440.1 1318.5M1460.9 1337.9L1460.9 1355.5" stroke-width="2.40" stroke-linecap="butt"/>
<path d="M1436.0 1098.8L1424.7 1086.3M1460.6 1056.0L1481.0 1033.4M1441.8 998.0L1421.4 1020.7M1486.9 977.9L1466.5 955.3M1438.6 967.7L1416.6 946.6M1696.9 1210.2L1676.5 1232.9M1715.7 1268.3L1736.1 1245.6M1442.4 1496.5L1453.8 1509.1M1417.8 1539.3L1397.4 1561.9M1436.6 1597.3L1457.0 1574.6M1391.5 1617.4L1411.9 1640.0M1391.5 1617.4L1369.7 1638.7M1181.2 1385.3L1201.6 1362.6M1162.4 1327.2L1142.0 1349.9M1442.4 1496.5L1364.8 1401.8M1464.7 1267.8L1507.9 1219.0M1413.4 1327.8L1365.6 1381.5" stroke-width="1.00" stroke-linecap="round"/>
<path d="M1443.9 1003.6L1427.1 1022.2M1699.0 1215.8L1682.3 1234.4M1434.5 1591.7L1451.3 1573.1M1179.1 1379.7L1195.8 1361.1" stroke-width="1.00" stroke-linecap="butt"/>
<text stroke="none" transform="translate(1464.2 1095.1) scale(0.95 1.04)" font-size="21.5">N</text>
<text stroke="none" transform="translate(1416.0 1084.9) scale(0.95 1.04)" font-size="21.5">N</text>
<text stroke="none" transform="translate(1649.0 1229.3) scale(0.95 1.04)" font-size="21.5">N</text>
<text stroke="none" transform="translate(1682.1 1192.6) scale(0.95 1.04)" font-size="21.5">N</text>
<text stroke="none" transform="translate(1415.0 1517.7) scale(0.95 1.04)" font-size="21.5">N</text>
<text stroke="none" transform="translate(1463.3 1528.0) scale(0.95 1.04)" font-size="21.5">N</text>
<text stroke="none" transform="translate(1229.9 1383.8) scale(0.95 1.04)" font-size="21.5">N</text>
<text stroke="none" transform="translate(1196.9 1420.4) scale(0.95 1.04)" font-size="21.5">N</text>
<text stroke="none" transform="translate(1412.3 1276.5) scale(0.95 1.04)" font-size="21.5">N</text>
<text stroke="none" transform="translate(1466.6 1336.5) scale(0.95 1.04)" font-size="21.5">N</text>
<text stroke="none" transform="translate(1514.1 1217.6) scale(0.95 1.04)" font-size="21.5">Ir</text>
<text stroke="none" transform="translate(1360.1 1400.4) scale(0.95 1.04)" font-size="21.5">Ir</text>
<path d="M690.4 1846.4L716.7 1861.6M716.7 1861.6L716.7 1892.0M716.7 1892.0L690.4 1907.2M690.4 1907.2L664.1 1892.0M664.1 1892.0L664.1 1861.6M664.1 1861.6L690.4 1846.4M769.4 1800.8L795.7 1816.0M795.7 1816.0L795.7 1846.4M795.7 1846.4L769.4 1861.6M769.4 1861.6L743.0 1846.4M743.0 1846.4L743.0 1816.0M743.0 1816.0L769.4 1800.8M716.7 1861.6L743.0 1846.4M769.4 1709.6L795.7 1724.8M795.7 1724.8L795.7 1755.2M795.7 1755.2L769.4 1770.4M769.4 1770.4L743.0 1755.2M743.0 1755.2L743.0 1724.8M743.0 1724.8L769.4 1709.6M769.4 1800.8L769.4 1770.4M627.8 1851.7L609.6 1859.9M595.0 1827.2L604.4 1810.9M604.4 1810.9L634.1 1817.3M634.1 1817.3L636.3 1837.4M654.5 1794.7L645.1 1765.8M645.1 1765.8L615.4 1759.4M595.0 1782.0L604.4 1810.9M645.1 1765.8L660.3 1739.4M640.0 1716.8L612.2 1729.2M612.2 1729.2L615.4 1759.4M660.3 1739.4L686.7 1724.3M660.3 1739.4L686.5 1754.8M612.2 1729.2L583.1 1738.0M579.7 1838.3L559.0 1840.5M559.0 1840.5L546.6 1868.2M546.6 1868.2L516.4 1871.4M516.4 1871.4L498.5 1846.8M498.5 1846.8L510.9 1819.0M510.9 1819.0L541.1 1815.9M541.1 1815.9L559.0 1840.5M664.1 1861.6L647.0 1852.6M795.9 2027.8L769.6 2043.0M769.6 2043.0L743.2 2027.8M743.2 2027.8L743.2 1997.4M743.2 1997.4L769.6 1982.2M769.6 1982.2L795.9 1997.4M795.9 1997.4L795.9 2027.8M795.9 2119.0L769.6 2134.2M769.6 2134.2L743.2 2119.0M743.2 2119.0L743.2 2088.6M743.2 2088.6L769.6 2073.4M769.6 2073.4L795.9 2088.6M795.9 2088.6L795.9 2119.0M769.6 2043.0L769.6 2073.4M874.9 2164.6L848.5 2179.8M848.5 2179.8L822.2 2164.6M822.2 2164.6L822.2 2134.2M822.2 2134.2L848.5 2119.0M848.5 2119.0L874.9 2134.2M874.9 2134.2L874.9 2164.6M795.9 2119.0L822.2 2134.2M822.6 1971.1L824.7 1951.0M824.7 1951.0L844.9 1946.7M860.3 1954.8L869.6 1971.0M849.3 1993.6L831.2 1985.5M849.3 1993.6L858.7 2022.5M858.7 2022.5L888.4 2028.8M908.8 2006.2L899.4 1977.3M899.4 1977.3L869.6 1971.0M888.4 2028.8L903.6 2055.1M903.6 2055.1L933.4 2048.8M933.4 2048.8L936.5 2018.6M936.5 2018.6L908.8 2006.2M903.6 2055.1L896.5 2084.7M903.6 2055.1L874.2 2062.9M936.5 2018.6L966.1 2011.6M936.5 2018.6L944.5 1989.2M858.9 1934.6L866.8 1916.9M866.8 1916.9L848.9 1892.3M848.9 1892.3L861.3 1864.5M861.3 1864.5L891.5 1861.3M891.5 1861.3L909.4 1885.9M909.4 1885.9L897.0 1913.7M897.0 1913.7L866.8 1916.9M795.9 1997.4L812.0 1987.2M533.4 2271.0L507.1 2255.8M507.1 2255.8L507.1 2225.4M507.1 2225.4L533.4 2210.2M533.4 2210.2L559.7 2225.4M559.7 2225.4L559.7 2255.8M559.7 2255.8L533.4 2271.0M454.4 2316.6L428.1 2301.4M428.1 2301.4L428.1 2271.0M428.1 2271.0L454.4 2255.8M454.4 2255.8L480.8 2271.0M480.8 2271.0L480.8 2301.4M480.8 2301.4L454.4 2316.6M507.1 2255.8L480.8 2271.0M454.4 2407.8L428.1 2392.6M428.1 2392.6L428.1 2362.2M428.1 2362.2L454.4 2347.0M454.4 2347.0L480.8 2362.2M480.8 2362.2L480.8 2392.6M480.8 2392.6L454.4 2407.8M454.4 2316.6L454.4 2347.0M596.5 2265.4L614.5 2257.3M629.0 2290.1L619.7 2306.3M619.7 2306.3L590.0 2299.9M590.0 2299.9L587.8 2279.9M569.6 2322.5L579.0 2351.4M579.0 2351.4L608.7 2357.8M629.1 2335.2L619.7 2306.3M579.0 2351.4L563.8 2377.8M584.1 2400.4L611.9 2388.0M611.9 2388.0L608.7 2357.8M563.8 2377.8L537.6 2362.4M611.9 2388.0L626.9 2414.4M611.9 2388.0L641.3 2380.3M644.6 2278.9L665.1 2276.7M665.1 2276.7L677.5 2249.0M677.5 2249.0L707.7 2245.8M707.7 2245.8L725.6 2270.4M725.6 2270.4L713.2 2298.2M713.2 2298.2L683.0 2301.3M683.0 2301.3L665.1 2276.7M559.7 2255.8L577.3 2264.8M427.9 2089.6L454.2 2074.4M454.2 2074.4L480.6 2089.6M480.6 2089.6L480.6 2120.0M480.6 2120.0L454.2 2135.2M454.2 2135.2L427.9 2120.0M427.9 2120.0L427.9 2089.6M427.9 1998.4L454.2 1983.2M454.2 1983.2L480.6 1998.4M480.6 1998.4L480.6 2028.8M480.6 2028.8L454.2 2044.0M454.2 2044.0L427.9 2028.8M427.9 2028.8L427.9 1998.4M454.2 2074.4L454.2 2044.0M348.9 1952.8L375.3 1937.6M375.3 1937.6L401.6 1952.8M401.6 1952.8L401.6 1983.2M401.6 1983.2L375.3 1998.4M375.3 1998.4L348.9 1983.2M348.9 1983.2L348.9 1952.8M427.9 1998.4L401.6 1983.2M401.2 2146.4L399.1 2166.4M399.1 2166.4L379.1 2170.7M363.5 2162.7L354.2 2146.4M374.5 2123.8L392.8 2132.0M374.5 2123.8L365.1 2094.9M365.1 2094.9L335.4 2088.6M315.0 2111.2L324.4 2140.1M324.4 2140.1L354.2 2146.4M335.4 2088.6L320.2 2062.3M320.2 2062.3L290.4 2068.6M290.4 2068.6L287.3 2098.8M287.3 2098.8L315.0 2111.2M320.2 2062.3L319.8 2031.9M320.2 2062.3L346.4 2046.9M287.3 2098.8L257.7 2106.0M287.3 2098.8L278.7 2128.0M364.8 2182.9L357.0 2200.5M357.0 2200.5L374.9 2225.1M374.9 2225.1L362.5 2252.9M362.5 2252.9L332.3 2256.1M332.3 2256.1L314.4 2231.5M314.4 2231.5L326.8 2203.7M326.8 2203.7L357.0 2200.5M427.9 2120.0L412.0 2130.1M611.9 1891.5L638.2 1906.7M638.2 1906.7L638.2 1937.1M638.2 1937.1L611.9 1952.3M611.9 1952.3L585.6 1937.1M585.6 1937.1L585.6 1906.7M585.6 1906.7L611.9 1891.5M690.9 1937.1L717.2 1952.3M717.2 1952.3L717.2 1982.7M717.2 1982.7L690.9 1997.9M690.9 1997.9L664.6 1982.7M664.6 1982.7L664.6 1952.3M664.6 1952.3L690.9 1937.1M769.9 1891.5L796.2 1906.7M796.2 1906.7L796.2 1937.1M796.2 1937.1L769.9 1952.3M769.9 1952.3L743.5 1937.1M743.5 1937.1L743.5 1906.7M743.5 1906.7L769.9 1891.5M690.9 2028.3L717.2 2043.5M717.2 2043.5L717.2 2073.9M717.2 2073.9L690.9 2089.1M690.9 2089.1L664.6 2073.9M664.6 2073.9L664.6 2043.5M664.6 2043.5L690.9 2028.3M611.9 1982.7L638.2 1997.9M638.2 1997.9L638.2 2028.3M638.2 2028.3L611.9 2043.5M611.9 2043.5L595.3 2033.9M585.6 2018.2L585.6 1997.9M585.6 1997.9L611.9 1982.7M638.2 1937.1L664.6 1952.3M717.2 1952.3L743.5 1937.1M690.9 1997.9L690.9 2028.3M611.9 1952.3L611.9 1982.7M611.9 2225.9L585.6 2210.7M585.6 2210.7L585.6 2180.3M585.6 2180.3L611.9 2165.1M611.9 2165.1L638.2 2180.3M638.2 2180.3L638.2 2210.7M638.2 2210.7L611.9 2225.9M532.9 2180.3L506.6 2165.1M506.6 2165.1L506.6 2134.7M506.6 2134.7L532.9 2119.5M532.9 2119.5L559.2 2134.7M559.2 2134.7L559.2 2165.1M559.2 2165.1L532.9 2180.3M453.9 2225.9L427.6 2210.7M427.6 2210.7L427.6 2180.3M427.6 2180.3L453.9 2165.1M453.9 2165.1L480.3 2180.3M480.3 2180.3L480.3 2210.7M480.3 2210.7L453.9 2225.9M532.9 2089.1L506.6 2073.9M506.6 2073.9L506.6 2043.5M506.6 2043.5L532.9 2028.3M532.9 2028.3L559.2 2043.5M559.2 2043.5L559.2 2073.9M559.2 2073.9L532.9 2089.1M611.9 2134.7L585.6 2119.5M585.6 2119.5L585.6 2089.1M585.6 2089.1L611.9 2073.9M611.9 2073.9L628.7 2083.6M638.2 2099.3L638.2 2119.5M638.2 2119.5L611.9 2134.7M585.6 2180.3L559.2 2165.1M506.6 2165.1L480.3 2180.3M532.9 2119.5L532.9 2089.1M611.9 2165.1L611.9 2134.7M743.5 1906.7L716.7 1892.0M717.2 2043.5L743.2 2027.8M480.3 2210.7L507.1 2225.4M506.6 2073.9L480.6 2089.6M609.6 1859.9L682.7 1959.5M664.1 1892.0L686.7 1959.5M824.7 1951.0L695.5 1969.0M769.6 1982.2L695.5 1970.5M559.7 2225.4L533.2 2163.0M399.1 2166.4L523.8 2153.4M454.2 2135.2L523.8 2151.7M642.6 2079.0L685.8 1979.8M580.9 2038.5L533.6 2142.7M611.9 2043.5L611.9 2073.9" stroke-width="2.40" stroke-linecap="round"/>
<path d="M669.1 1864.8L690.7 1852.3M711.4 1864.3L711.4 1889.3M690.7 1901.3L669.1 1888.8M748.1 1819.2L769.6 1806.7M790.4 1818.7L790.4 1843.7M769.6 1855.7L748.1 1843.2M769.1 1715.5L790.7 1728.0M790.7 1752.0L769.1 1764.5M748.3 1752.5L748.3 1727.5M608.2 1806.3L632.6 1811.5M648.6 1793.7L640.9 1770.0M543.3 1863.2L518.6 1865.9M504.5 1846.5L514.6 1823.7M538.4 1821.2L553.1 1841.3M790.6 2000.1L790.6 2025.1M769.8 2037.1L748.3 2024.6M748.3 2000.6L769.8 1988.1M790.6 2091.3L790.6 2116.3M769.8 2128.3L748.3 2115.8M748.3 2091.8L769.8 2079.3M869.9 2161.4L848.3 2173.9M827.5 2161.9L827.5 2136.9M848.3 2124.9L869.9 2137.4M862.5 2017.9L886.8 2023.1M902.9 2005.2L895.2 1981.5M854.9 1891.9L865.0 1869.2M888.9 1866.7L903.5 1886.8M893.8 1908.7L869.0 1911.3M554.7 2252.6L533.1 2265.1M512.4 2253.1L512.4 2228.1M533.1 2216.1L554.7 2228.6M475.7 2298.2L454.2 2310.7M433.4 2298.7L433.4 2273.7M454.2 2261.7L475.7 2274.2M454.7 2401.9L433.1 2389.4M433.1 2365.4L454.7 2352.9M475.5 2364.9L475.5 2389.9M615.9 2310.9L591.5 2305.7M575.5 2323.5L583.2 2347.2M680.8 2254.0L705.5 2251.3M719.6 2270.7L709.5 2293.5M685.7 2296.0L671.0 2275.9M433.2 2117.3L433.2 2092.3M454.0 2080.3L475.5 2092.8M475.5 2116.8L454.0 2129.3M433.2 2026.1L433.2 2001.1M454.0 1989.1L475.5 2001.6M475.5 2025.6L454.0 2038.1M353.9 1956.0L375.5 1943.5M396.3 1955.5L396.3 1980.5M375.5 1992.5L353.9 1980.0M361.3 2099.5L337.0 2094.3M320.9 2112.2L328.6 2135.9M368.9 2225.5L358.8 2248.2M334.9 2250.7L320.3 2230.6M330.0 2208.7L354.8 2206.1M611.6 1897.4L633.2 1909.9M633.2 1933.9L611.6 1946.4M590.9 1934.4L590.9 1909.4M690.6 1943.0L712.2 1955.5M712.2 1979.5L690.6 1992.0M669.8 1980.0L669.8 1955.0M748.6 1909.9L770.1 1897.4M790.9 1909.4L790.9 1934.4M770.1 1946.4L748.6 1933.9M669.6 2046.7L691.2 2034.2M711.9 2046.2L711.9 2071.2M691.2 2083.2L669.6 2070.7M611.6 1988.6L633.2 2001.1M633.2 2025.1L611.6 2037.6M590.9 2018.2L590.9 2000.6M612.2 2220.0L590.6 2207.5M590.6 2183.5L612.2 2171.0M632.9 2183.0L632.9 2208.0M533.2 2174.4L511.6 2161.9M511.6 2137.9L533.2 2125.4M554.0 2137.4L554.0 2162.4M475.2 2207.5L453.7 2220.0M432.9 2208.0L432.9 2183.0M453.7 2171.0L475.2 2183.5M554.2 2070.7L532.6 2083.2M511.9 2071.2L511.9 2046.2M532.6 2034.2L554.2 2046.7M612.2 2128.8L590.6 2116.3M590.6 2092.3L612.2 2079.8M632.9 2099.3L632.9 2116.8" stroke-width="2.40" stroke-linecap="butt"/>
<path d="M609.6 1859.9L598.4 1847.5M634.1 1817.3L654.5 1794.7M615.4 1759.4L595.0 1782.0M660.3 1739.4L640.0 1716.8M612.2 1729.2L590.2 1708.2M869.6 1971.0L849.3 1993.6M888.4 2028.8L908.8 2006.2M614.5 2257.3L625.8 2269.8M590.0 2299.9L569.6 2322.5M608.7 2357.8L629.1 2335.2M563.8 2377.8L584.1 2400.4M563.8 2377.8L542.1 2399.0M354.2 2146.4L374.5 2123.8M335.4 2088.6L315.0 2111.2M614.5 2257.3L537.2 2163.0M638.2 2028.3L681.3 1979.8M585.6 2089.1L538.0 2142.7" stroke-width="1.00" stroke-linecap="round"/>
<path d="M617.5 1765.0L600.8 1783.5M871.7 1976.5L855.1 1995.1M606.6 2352.2L623.3 2333.7M352.1 2140.9L368.7 2122.3" stroke-width="1.00" stroke-linecap="butt"/>
<text stroke="none" transform="translate(637.8 1856.3) scale(0.95 1.04)" font-size="21.5">N</text>
<text stroke="none" transform="translate(589.6 1846.0) scale(0.95 1.04)" font-size="21.5">N</text>
<text stroke="none" transform="translate(821.9 1990.0) scale(0.95 1.04)" font-size="21.5">N</text>
<text stroke="none" transform="translate(854.9 1953.4) scale(0.95 1.04)" font-size="21.5">N</text>
<text stroke="none" transform="translate(587.2 2278.5) scale(0.95 1.04)" font-size="21.5">N</text>
<text stroke="none" transform="translate(635.3 2288.7) scale(0.95 1.04)" font-size="21.5">N</text>
<text stroke="none" transform="translate(402.7 2145.0) scale(0.95 1.04)" font-size="21.5">N</text>
<text stroke="none" transform="translate(369.8 2181.5) scale(0.95 1.04)" font-size="21.5">N</text>
<text stroke="none" transform="translate(586.0 2037.1) scale(0.95 1.04)" font-size="21.5">N</text>
<text stroke="none" transform="translate(638.7 2097.9) scale(0.95 1.04)" font-size="21.5">N</text>
<text stroke="none" transform="translate(687.4 1978.3) scale(0.95 1.04)" font-size="21.5">Ir</text>
<text stroke="none" transform="translate(532.5 2161.5) scale(0.95 1.04)" font-size="21.5">Ir</text>
<path d="M1517.0 1846.2L1543.5 1861.4M1543.5 1861.4L1543.5 1891.9M1543.5 1891.9L1517.0 1907.2M1517.0 1907.2L1490.6 1891.9M1490.6 1891.9L1490.6 1861.4M1490.6 1861.4L1517.0 1846.2M1454.3 1851.5L1436.0 1859.7M1421.4 1826.9L1430.8 1810.6M1430.8 1810.6L1460.6 1816.9M1460.6 1816.9L1462.8 1837.2M1481.0 1794.3L1471.6 1765.2M1471.6 1765.2L1441.8 1758.9M1421.4 1781.6L1430.8 1810.6M1471.6 1765.2L1486.9 1738.8M1466.5 1716.2L1438.6 1728.6M1438.6 1728.6L1441.8 1758.9M1486.9 1738.8L1513.3 1723.7M1486.9 1738.8L1513.2 1754.2M1438.6 1728.6L1409.4 1737.4M1406.1 1838.0L1385.2 1840.2M1385.2 1840.2L1372.8 1868.0M1372.8 1868.0L1342.5 1871.2M1342.5 1871.2L1324.5 1846.6M1324.5 1846.6L1336.9 1818.7M1336.9 1818.7L1367.3 1815.5M1367.3 1815.5L1385.2 1840.2M1342.5 1871.2L1330.1 1899.1M1330.1 1899.1L1348.0 1923.8M1348.0 1923.8L1335.6 1951.6M1335.6 1951.6L1305.3 1954.8M1305.3 1954.8L1287.3 1930.1M1287.3 1930.1L1299.7 1902.3M1299.7 1902.3L1330.1 1899.1M1490.6 1861.4L1473.5 1852.4M1622.9 2028.2L1596.5 2043.4M1596.5 2043.4L1570.1 2028.2M1570.1 2028.2L1570.1 1997.7M1570.1 1997.7L1596.5 1982.4M1596.5 1982.4L1622.9 1997.7M1622.9 1997.7L1622.9 2028.2M1649.7 1971.3L1651.8 1951.1M1651.8 1951.1L1672.2 1946.7M1687.5 1954.9L1696.9 1971.1M1676.5 1993.8L1658.3 1985.7M1676.5 1993.8L1685.9 2022.8M1685.9 2022.8L1715.7 2029.2M1736.1 2006.5L1726.7 1977.5M1726.7 1977.5L1696.9 1971.1M1715.7 2029.2L1731.0 2055.6M1731.0 2055.6L1760.8 2049.2M1760.8 2049.2L1764.0 2018.9M1764.0 2018.9L1736.1 2006.5M1731.0 2055.6L1723.8 2085.2M1731.0 2055.6L1701.5 2063.4M1764.0 2018.9L1793.7 2011.9M1764.0 2018.9L1771.9 1989.4M1686.1 1934.6L1694.0 1916.9M1694.0 1916.9L1676.1 1892.2M1676.1 1892.2L1688.5 1864.3M1688.5 1864.3L1718.8 1861.1M1718.8 1861.1L1736.8 1885.8M1736.8 1885.8L1724.4 1913.7M1724.4 1913.7L1694.0 1916.9M1688.5 1864.3L1670.6 1839.6M1670.6 1839.6L1640.3 1842.8M1640.3 1842.8L1622.3 1818.2M1622.3 1818.2L1634.7 1790.3M1634.7 1790.3L1665.1 1787.1M1665.1 1787.1L1683.0 1811.8M1683.0 1811.8L1670.6 1839.6M1622.9 1997.7L1639.1 1987.4M1361.1 2271.2L1334.6 2255.9M1334.6 2255.9L1334.6 2225.4M1334.6 2225.4L1361.1 2210.2M1361.1 2210.2L1387.5 2225.4M1387.5 2225.4L1387.5 2255.9M1387.5 2255.9L1361.1 2271.2M1424.3 2265.5L1442.4 2257.4M1457.0 2290.3L1447.6 2306.5M1447.6 2306.5L1417.8 2300.2M1417.8 2300.2L1415.7 2280.0M1397.4 2322.8L1406.8 2351.9M1406.8 2351.9L1436.6 2358.2M1457.0 2335.5L1447.6 2306.5M1406.8 2351.9L1391.5 2378.3M1411.9 2400.9L1439.8 2388.5M1439.8 2388.5L1436.6 2358.2M1391.5 2378.3L1365.2 2362.9M1439.8 2388.5L1454.8 2415.1M1439.8 2388.5L1469.3 2380.8M1472.6 2279.1L1493.2 2276.9M1493.2 2276.9L1505.6 2249.1M1505.6 2249.1L1535.9 2245.9M1535.9 2245.9L1553.9 2270.5M1553.9 2270.5L1541.5 2298.4M1541.5 2298.4L1511.1 2301.6M1511.1 2301.6L1493.2 2276.9M1535.9 2245.9L1548.3 2218.0M1548.3 2218.0L1530.4 2193.3M1530.4 2193.3L1542.8 2165.5M1542.8 2165.5L1573.1 2162.3M1573.1 2162.3L1591.1 2187.0M1591.1 2187.0L1578.7 2214.8M1578.7 2214.8L1548.3 2218.0M1387.5 2255.9L1405.1 2265.0M1255.2 2089.2L1281.6 2073.9M1281.6 2073.9L1308.0 2089.2M1308.0 2089.2L1308.0 2119.7M1308.0 2119.7L1281.6 2134.9M1281.6 2134.9L1255.2 2119.7M1255.2 2119.7L1255.2 2089.2M1228.4 2146.1L1226.3 2166.2M1226.3 2166.2L1206.2 2170.5M1190.6 2162.5L1181.2 2146.2M1201.6 2123.5L1220.0 2131.7M1201.6 2123.5L1192.2 2094.5M1192.2 2094.5L1162.4 2088.1M1142.0 2110.8L1151.4 2139.8M1151.4 2139.8L1181.2 2146.2M1162.4 2088.1L1147.1 2061.7M1147.1 2061.7L1117.3 2068.1M1117.3 2068.1L1114.1 2098.4M1114.1 2098.4L1142.0 2110.8M1147.1 2061.7L1146.7 2031.2M1147.1 2061.7L1173.4 2046.3M1114.1 2098.4L1084.5 2105.6M1114.1 2098.4L1105.5 2127.7M1191.9 2182.8L1184.1 2200.4M1184.1 2200.4L1202.0 2225.1M1202.0 2225.1L1189.6 2253.0M1189.6 2253.0L1159.3 2256.2M1159.3 2256.2L1141.3 2231.5M1141.3 2231.5L1153.7 2203.6M1153.7 2203.6L1184.1 2200.4M1189.6 2253.0L1207.5 2277.7M1207.5 2277.7L1237.8 2274.5M1237.8 2274.5L1255.8 2299.1M1255.8 2299.1L1243.4 2327.0M1243.4 2327.0L1213.0 2330.2M1213.0 2330.2L1195.1 2305.5M1195.1 2305.5L1207.5 2277.7M1255.2 2119.7L1239.2 2129.8M1438.3 1891.4L1464.7 1906.7M1464.7 1906.7L1464.7 1937.2M1464.7 1937.2L1438.3 1952.4M1438.3 1952.4L1411.9 1937.2M1411.9 1937.2L1411.9 1906.7M1411.9 1906.7L1438.3 1891.4M1517.5 1937.2L1544.0 1952.4M1544.0 1952.4L1544.0 1982.9M1544.0 1982.9L1517.5 1998.2M1517.5 1998.2L1491.1 1982.9M1491.1 1982.9L1491.1 1952.4M1491.1 1952.4L1517.5 1937.2M1596.8 1891.4L1623.2 1906.7M1623.2 1906.7L1623.2 1937.2M1623.2 1937.2L1596.8 1952.4M1596.8 1952.4L1570.4 1937.2M1570.4 1937.2L1570.4 1906.7M1570.4 1906.7L1596.8 1891.4M1517.5 2028.7L1544.0 2043.9M1544.0 2043.9L1544.0 2074.4M1544.0 2074.4L1517.5 2089.7M1517.5 2089.7L1491.1 2074.4M1491.1 2074.4L1491.1 2043.9M1491.1 2043.9L1517.5 2028.7M1438.3 1982.9L1464.7 1998.2M1464.7 1998.2L1464.7 2028.7M1464.7 2028.7L1438.3 2043.9M1438.3 2043.9L1421.6 2034.2M1411.9 2018.6L1411.9 1998.2M1411.9 1998.2L1438.3 1982.9M1464.7 1937.2L1491.1 1952.4M1544.0 1952.4L1570.4 1937.2M1517.5 1998.2L1517.5 2028.7M1438.3 1952.4L1438.3 1982.9M1439.8 2225.9L1413.4 2210.7M1413.4 2210.7L1413.4 2180.2M1413.4 2180.2L1439.8 2164.9M1439.8 2164.9L1466.2 2180.2M1466.2 2180.2L1466.2 2210.7M1466.2 2210.7L1439.8 2225.9M1360.6 2180.2L1334.1 2164.9M1334.1 2164.9L1334.1 2134.4M1334.1 2134.4L1360.6 2119.2M1360.6 2119.2L1387.0 2134.4M1387.0 2134.4L1387.0 2164.9M1387.0 2164.9L1360.6 2180.2M1281.3 2225.9L1254.9 2210.7M1254.9 2210.7L1254.9 2180.2M1254.9 2180.2L1281.3 2164.9M1281.3 2164.9L1307.7 2180.2M1307.7 2180.2L1307.7 2210.7M1307.7 2210.7L1281.3 2225.9M1360.6 2088.7L1334.1 2073.4M1334.1 2073.4L1334.1 2042.9M1334.1 2042.9L1360.6 2027.7M1360.6 2027.7L1387.0 2042.9M1387.0 2042.9L1387.0 2073.4M1387.0 2073.4L1360.6 2088.7M1439.8 2134.4L1413.4 2119.2M1413.4 2119.2L1413.4 2088.7M1413.4 2088.7L1439.8 2073.4M1439.8 2073.4L1456.7 2083.2M1466.2 2098.8L1466.2 2119.2M1466.2 2119.2L1439.8 2134.4M1413.4 2180.2L1387.0 2164.9M1334.1 2164.9L1307.7 2180.2M1360.6 2119.2L1360.6 2088.7M1439.8 2164.9L1439.8 2134.4M1570.4 1906.7L1543.5 1891.9M1544.0 2043.9L1570.1 2028.2M1307.7 2210.7L1334.6 2225.4M1334.1 2073.4L1308.0 2089.2M1436.0 1859.7L1509.3 1959.6M1490.6 1891.9L1513.4 1959.6M1651.8 1951.1L1522.2 1969.1M1596.5 1982.4L1522.2 1970.7M1387.5 2225.4L1360.8 2162.7M1226.3 2166.2L1351.4 2153.2M1281.6 2134.9L1351.4 2151.4M1470.5 2078.6L1512.6 1979.9M1407.3 2038.8L1361.1 2142.4M1438.3 2043.9L1439.8 2073.4" stroke-width="2.40" stroke-linecap="round"/>
<path d="M1495.7 1864.6L1517.3 1852.1M1538.1 1864.1L1538.1 1889.2M1517.3 1901.2L1495.7 1888.7M1434.6 1806.0L1459.0 1811.2M1475.1 1793.3L1467.4 1769.5M1369.5 1863.0L1344.6 1865.7M1330.5 1846.2L1340.7 1823.4M1364.6 1820.8L1379.3 1841.1M1342.0 1924.1L1331.9 1947.0M1307.9 1949.5L1293.2 1929.2M1303.0 1907.3L1327.9 1904.7M1617.6 2000.4L1617.6 2025.4M1596.8 2037.4L1575.1 2024.9M1575.1 2000.9L1596.8 1988.4M1689.7 2018.2L1714.2 2023.4M1730.2 2005.5L1722.5 1981.7M1682.1 1891.8L1692.2 1869.0M1716.2 1866.5L1730.9 1886.7M1721.1 1908.7L1696.2 1911.3M1642.9 1837.5L1628.2 1817.3M1638.0 1795.3L1662.9 1792.7M1677.0 1812.1L1666.9 1835.0M1382.4 2252.7L1360.8 2265.2M1340.0 2253.2L1340.0 2228.1M1360.8 2216.1L1382.4 2228.6M1443.8 2311.1L1419.4 2305.9M1403.3 2323.8L1411.0 2347.6M1508.9 2254.1L1533.8 2251.4M1547.9 2270.9L1537.7 2293.7M1513.8 2296.3L1499.1 2276.0M1536.4 2193.0L1546.5 2170.1M1570.5 2167.6L1585.2 2187.9M1575.4 2209.8L1550.5 2212.4M1260.5 2116.9L1260.5 2091.9M1281.3 2079.9L1303.0 2092.4M1303.0 2116.4L1281.3 2128.9M1188.4 2099.1L1163.9 2093.9M1147.9 2111.8L1155.6 2135.6M1196.0 2225.5L1185.9 2248.3M1161.9 2250.8L1147.2 2230.6M1157.0 2208.6L1181.9 2206.0M1235.2 2279.8L1249.9 2300.0M1240.1 2322.0L1215.2 2324.6M1201.1 2305.2L1211.2 2282.3M1438.0 1897.4L1459.7 1909.9M1459.7 1933.9L1438.0 1946.4M1417.2 1934.4L1417.2 1909.4M1517.3 1943.1L1538.9 1955.6M1538.9 1979.7L1517.3 1992.2M1496.4 1980.2L1496.4 1955.1M1575.4 1909.9L1597.1 1897.4M1617.9 1909.4L1617.9 1934.4M1597.1 1946.4L1575.4 1933.9M1496.2 2047.1L1517.8 2034.6M1538.6 2046.6L1538.6 2071.7M1517.8 2083.7L1496.2 2071.2M1438.0 1988.9L1459.7 2001.4M1459.7 2025.4L1438.0 2037.9M1417.2 2018.6L1417.2 2000.9M1440.1 2219.9L1418.4 2207.4M1418.4 2183.4L1440.1 2170.9M1460.9 2182.9L1460.9 2207.9M1360.8 2174.2L1339.2 2161.7M1339.2 2137.6L1360.8 2125.1M1381.7 2137.1L1381.7 2162.2M1302.7 2207.4L1281.0 2219.9M1260.2 2207.9L1260.2 2182.9M1281.0 2170.9L1302.7 2183.4M1381.9 2070.2L1360.3 2082.7M1339.5 2070.7L1339.5 2045.6M1360.3 2033.6L1381.9 2046.1M1440.1 2128.4L1418.4 2115.9M1418.4 2091.9L1440.1 2079.4M1460.9 2098.8L1460.9 2116.4" stroke-width="2.40" stroke-linecap="butt"/>
<path d="M1436.0 1859.7L1424.7 1847.2M1460.6 1816.9L1481.0 1794.3M1441.8 1758.9L1421.4 1781.6M1486.9 1738.8L1466.5 1716.2M1438.6 1728.6L1416.6 1707.5M1696.9 1971.1L1676.5 1993.8M1715.7 2029.2L1736.1 2006.5M1442.4 2257.4L1453.8 2270.0M1417.8 2300.2L1397.4 2322.8M1436.6 2358.2L1457.0 2335.5M1391.5 2378.3L1411.9 2400.9M1391.5 2378.3L1369.7 2399.6M1181.2 2146.2L1201.6 2123.5M1162.4 2088.1L1142.0 2110.8M1442.4 2257.4L1364.8 2162.7M1464.7 2028.7L1507.9 1979.9M1413.4 2088.7L1365.6 2142.4" stroke-width="1.00" stroke-linecap="round"/>
<path d="M1443.9 1764.5L1427.1 1783.1M1699.0 1976.7L1682.3 1995.3M1434.5 2352.6L1451.3 2334.0M1179.1 2140.6L1195.8 2122.0" stroke-width="1.00" stroke-linecap="butt"/>
<text stroke="none" transform="translate(1464.2 1856.0) scale(0.95 1.04)" font-size="21.5">N</text>
<text stroke="none" transform="translate(1416.0 1845.8) scale(0.95 1.04)" font-size="21.5">N</text>
<text stroke="none" transform="translate(1649.0 1990.2) scale(0.95 1.04)" font-size="21.5">N</text>
<text stroke="none" transform="translate(1682.1 1953.5) scale(0.95 1.04)" font-size="21.5">N</text>
<text stroke="none" transform="translate(1415.0 2278.6) scale(0.95 1.04)" font-size="21.5">N</text>
<text stroke="none" transform="translate(1463.3 2288.9) scale(0.95 1.04)" font-size="21.5">N</text>
<text stroke="none" transform="translate(1229.9 2144.7) scale(0.95 1.04)" font-size="21.5">N</text>
<text stroke="none" transform="translate(1196.9 2181.3) scale(0.95 1.04)" font-size="21.5">N</text>
<text stroke="none" transform="translate(1412.3 2037.4) scale(0.95 1.04)" font-size="21.5">N</text>
<text stroke="none" transform="translate(1466.6 2097.4) scale(0.95 1.04)" font-size="21.5">N</text>
<text stroke="none" transform="translate(1514.1 1978.5) scale(0.95 1.04)" font-size="21.5">Ir</text>
<text stroke="none" transform="translate(1360.1 2161.3) scale(0.95 1.04)" font-size="21.5">Ir</text>
</svg>
</body></html>
